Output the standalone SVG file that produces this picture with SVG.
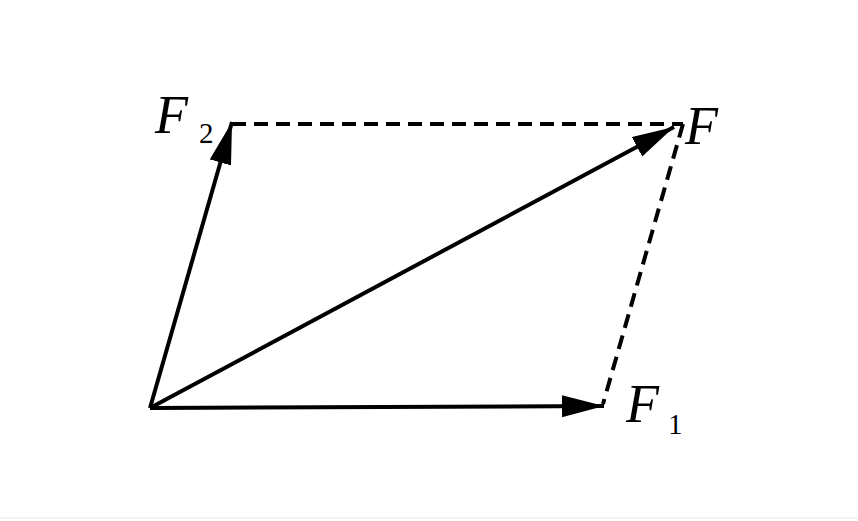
<svg xmlns="http://www.w3.org/2000/svg" width="858" height="521" viewBox="0 0 858 521">
<style>
.v{stroke:#000;stroke-width:4;fill:none}
.d{stroke:#000;stroke-width:4;fill:none;stroke-dasharray:14,8}
.t{font-family:"Liberation Serif",serif;font-style:italic;font-size:54px}
.s{font-family:"Liberation Serif",serif;font-size:29px}
</style>
<defs><marker id="a" markerUnits="userSpaceOnUse" markerWidth="44" markerHeight="24" refX="42" refY="11" orient="auto"><path d="M0,0 L42,11 L0,22 Z" fill="#000"/></marker></defs>
<rect width="858" height="521" fill="#fff"/>
<line x1="0" y1="518" x2="858" y2="518" stroke="#e6e6e6" stroke-width="1"/>
<g id="connectors">
<line class="d" x1="232" y1="124" x2="683" y2="124"/>
<line class="d" x1="683" y1="124" x2="603" y2="404"/>
<line class="v" x1="150" y1="408" x2="604" y2="406" marker-end="url(#a)"/>
<line class="v" x1="150" y1="408" x2="232" y2="122" marker-end="url(#a)"/>
<line class="v" x1="150" y1="408" x2="674" y2="127" marker-end="url(#a)"/>
</g>
<g id="F2"><text class="t" x="155" y="133">F</text><text class="s" x="199" y="143">2</text></g>
<g id="F"><text class="t" x="685" y="144">F</text></g>
<g id="F1"><text class="t" x="626" y="422">F</text><text class="s" x="668" y="434">1</text></g>
</svg>
